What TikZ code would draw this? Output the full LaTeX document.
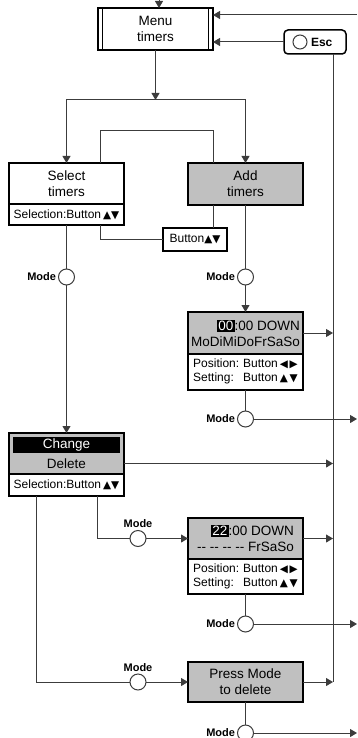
\documentclass[tikz,border=0pt]{standalone}
\usepackage{fontspec}
\setmainfont{Liberation Sans}
\newfontfamily\symfont{DejaVu Sans}
\usetikzlibrary{arrows.meta,calc}
\definecolor{boxgray}{RGB}{192,192,192}
\definecolor{linegray}{RGB}{60,60,60}
\newcommand\tri[1]{{\symfont\fontsize{10.5}{12}\selectfont #1}}
\newcommand\invtxt[1]{{\setlength{\fboxsep}{1.2pt}\colorbox{black}{\textcolor{white}{#1}}}}
\begin{document}
\begin{tikzpicture}[x=1pt,y=-1pt,
  every node/.style={inner sep=0pt, outer sep=0pt},
  box/.style={draw=black, line width=1.5pt, minimum width=115pt, anchor=north west},
  conn/.style={draw=linegray, line width=1pt},
  arr/.style={conn, -{Triangle[length=7pt,width=8pt]}},
  modec/.style={circle, draw=linegray, line width=1pt, fill=white, minimum size=16pt},
  big/.style={font=\fontsize{13.5}{16}\selectfont, align=center},
  small/.style={font=\fontsize{12}{14}\selectfont},
  modelab/.style={font=\bfseries\fontsize{11}{13}\selectfont, inner sep=2.5pt},
]
\useasboundingbox (0,0) rectangle (357,738);

% boxes
\node[box, minimum height=42pt, big] (menu) at (98,8) {Menu\\timers};
\draw[line width=1.2pt] ([xshift=4.5pt]menu.north west) -- ([xshift=4.5pt]menu.south west);
\draw[line width=1.2pt] ([xshift=-4.5pt]menu.north east) -- ([xshift=-4.5pt]menu.south east);

\node[draw=black, line width=1.5pt, rounded corners=4pt, minimum width=62pt, minimum height=24pt, anchor=north west] (esc) at (284,30) {};
\node[circle, draw=linegray, line width=1pt, minimum size=14pt] (escc) at (300,42) {};
\node[font=\bfseries\fontsize{12}{14}\selectfont, anchor=west] (esct) at (311,42.5) {Esc};

\node[box, minimum height=41pt, big] (selt) at (9,163) {Select\\timers};
\node[box, minimum height=21pt, small] (selb) at (9,204) {Selection:Button\,\tri{▲▼}};

\node[box, fill=boxgray, minimum height=42pt, big] (add) at (188,163) {Add\\timers};
\node[box, minimum width=64pt, minimum height=23pt, small] (btn) at (163,228) {Button\tri{▲▼}};

\node[box, fill=boxgray, minimum height=42pt, big, align=right] (d1) at (188,312) {\invtxt{00}:00 DOWN\\MoDiMiDoFrSaSo};
\node[box, minimum height=36pt, small] (d1b) at (188,354) {\begin{tabular}{@{}l@{\hspace{4pt}}l@{\hspace{2pt}}l@{}}Position: & Button & \tri{◀\,▶}\\ Setting: & Button & \tri{▲\,▼}\end{tabular}};

\node[box, fill=boxgray, minimum height=41pt] (chg) at (9,433) {};
\node[fill=black, text=white, minimum width=107pt, minimum height=16pt, big, anchor=north west] (chgband) at (13,437) {Change};
\node[big, minimum width=115pt, minimum height=21pt] (del) at (66.5,463.5) {Delete};
\node[box, minimum height=22pt, small] (chgb) at (9,474) {Selection:Button\,\tri{▲▼}};

\node[box, fill=boxgray, minimum height=41pt, big, align=right] (d2) at (188,518) {\invtxt{22}:00 DOWN\\-{}- -{}- -{}- -{}- FrSaSo};
\node[box, minimum height=35pt, small] (d2b) at (188,559) {\begin{tabular}{@{}l@{\hspace{4pt}}l@{\hspace{2pt}}l@{}}Position: & Button & \tri{◀\,▶}\\ Setting: & Button & \tri{▲\,▼}\end{tabular}};

\node[box, fill=boxgray, minimum height=40pt, big] (press) at (188,662) {Press Mode\\to delete};

% mode circles
\node[modec, label={[modelab]left:Mode}] (m1) at (66.5,277) {};
\node[modec, label={[modelab]left:Mode}] (m2) at (245.5,277) {};
\node[modec, label={[modelab]left:Mode}] (m3) at (245.5,419) {};
\node[modec, label={[modelab]above:Mode}] (m4) at (138,538.5) {};
\node[modec, label={[modelab]left:Mode}] (m5) at (245.5,624) {};
\node[modec, label={[modelab]above:Mode}] (m6) at (138,682) {};
\node[modec, label={[modelab]left:Mode}] (m7) at (245.5,733) {};

% helper coordinates
\coordinate (topin) at (159,0);
\coordinate (rtop) at (357,15);
\coordinate (vx) at (333,0);
\coordinate (rx) at (357,0);
\coordinate (split) at (155.5,100);
\coordinate (lA) at (100,131);
\coordinate (lB) at (213,131);
\coordinate (cA) at (97,0);
\coordinate (cB) at (36,0);

% connectors
\draw[arr] (topin) -- (topin |- menu.north);
\draw[arr] (rtop) -- (rtop -| menu.east);
\draw[arr] (esc.west) -- (esc.west -| menu.east);
\draw[conn] (vx |- esc.south) -- (vx |- press.east);
\draw[arr] (menu.south) -- (split);
\draw[arr] (split) -| (selt.north);
\draw[arr] (split) -| (add.north);
\draw[conn] (lA |- selt.north) -- (lA) -- (lB) -- (lB |- add.north);
\draw[conn] (lB |- add.south) -- (lB |- btn.north);
\draw[conn] (lA |- selb.south) |- (btn.west);
\draw[conn] (selb.south) -- (m1);
\draw[arr] (m1) -- (chg.north);
\draw[conn] (add.south) -- (m2);
\draw[arr] (m2) -- (d1.north);
\draw[arr] (d1.east) -- (d1.east -| vx);
\draw[conn] (d1b.south) -- (m3);
\draw[arr] (m3) -- (m3 -| rx);
\draw[arr] (del.east) -- (del.east -| vx);
\draw[conn] (cA |- chgb.south) |- (m4);
\draw[arr] (m4) -- (d2.west);
\draw[arr] (d2.east) -- (d2.east -| vx);
\draw[conn] (d2b.south) -- (m5);
\draw[arr] (m5) -- (m5 -| rx);
\draw[conn] (cB |- chgb.south) |- (m6);
\draw[arr] (m6) -- (press.west);
\draw[arr] (press.east) -- (press.east -| vx);
\draw[conn] (press.south) -- (m7);
\draw[arr] (m7) -- (m7 -| rx);
\end{tikzpicture}
\end{document}
